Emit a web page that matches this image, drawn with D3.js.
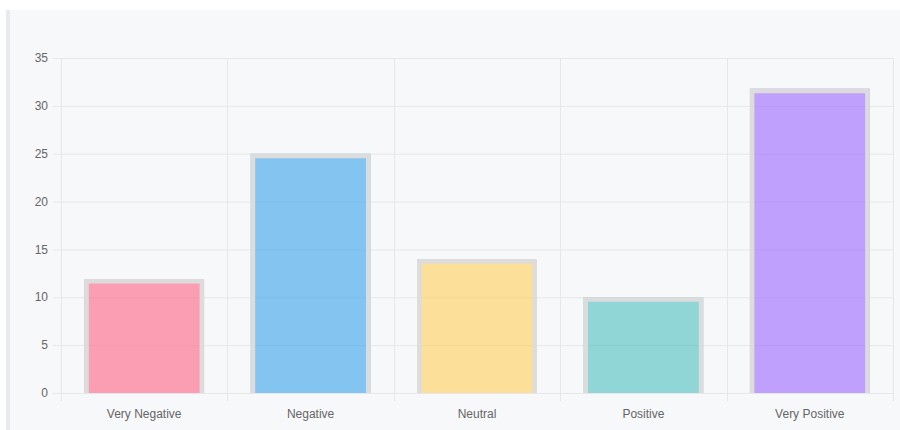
<!DOCTYPE html>
<html>
<head>
<meta charset="utf-8">
<script src="https://cdn.jsdelivr.net/npm/d3@7"></script>
<style>
  body { margin: 0; background: #ffffff; }
  svg { display: block; }
</style>
</head>
<body>
<div id="chart"></div>
<script>
// data
var categories = ['Very Negative', 'Negative', 'Neutral', 'Positive', 'Very Positive'];
var values = [11.9, 25, 14, 10, 31.8];
var barColors = ['rgba(255,99,132,0.6)', 'rgba(54,162,235,0.6)', 'rgba(255,206,86,0.6)',
                 'rgba(75,192,192,0.6)', 'rgba(153,102,255,0.6)'];
var yTicks = [0, 5, 10, 15, 20, 25, 30, 35];

var W = 900, H = 430;
var svg = d3.select('#chart').append('svg').attr('width', W).attr('height', H);

// panel background + left border
svg.append('rect').attr('x', 6).attr('y', 10).attr('width', W - 6).attr('height', H - 10).attr('fill', '#f7f8fa');
svg.append('rect').attr('x', 6).attr('y', 10).attr('width', 4).attr('height', H - 10).attr('fill', '#e9eaed');

var pLeft = 61, pRight = 893, pTop = 58, pBottom = 393;

var x = d3.scaleBand().domain(categories).range([pLeft, pRight]).paddingInner(0).paddingOuter(0);
var y = d3.scaleLinear().domain([0, 35]).range([pBottom, pTop]);

var grid = '#e6e7ea';

// horizontal grid lines + tick marks
svg.append('g').selectAll('line').data(yTicks).enter().append('line')
   .attr('x1', pLeft - 8).attr('x2', pRight)
   .attr('y1', d => y(d) + 0.5).attr('y2', d => y(d) + 0.5)
   .attr('stroke', grid).attr('stroke-width', 1);

// vertical grid lines (category boundaries)
var bounds = categories.map(c => x(c)).concat([pRight]);
svg.append('g').selectAll('line').data(bounds).enter().append('line')
   .attr('x1', d => Math.round(d) + 0.5).attr('x2', d => Math.round(d) + 0.5)
   .attr('y1', pTop).attr('y2', pBottom + 8)
   .attr('stroke', grid).attr('stroke-width', 1);

// y labels
svg.append('g').selectAll('text').data(yTicks).enter().append('text')
   .attr('x', pLeft - 13).attr('y', d => y(d)).attr('dy', '0.35em')
   .attr('text-anchor', 'end').attr('font-family', 'Helvetica, Arial, "Liberation Sans", sans-serif')
   .attr('font-size', 12).attr('fill', '#666').text(d => d);

// bars: fill + border on left/top/right (bottom skipped)
var bw = x.bandwidth() * 0.72;
var sw = 4.5;
var bars = svg.append('g').selectAll('g').data(values).enter().append('g');
function bx(i) { return x(categories[i]) + (x.bandwidth() - bw) / 2; }

bars.append('rect')
   .attr('x', (d, i) => bx(i))
   .attr('y', d => y(d))
   .attr('width', bw)
   .attr('height', d => pBottom - y(d))
   .attr('fill', (d, i) => barColors[i]);

bars.append('path')
   .attr('d', (d, i) => {
       var x0 = bx(i) + sw / 2, x1 = bx(i) + bw - sw / 2, yt = y(d) + sw / 2;
       return `M${x0},${pBottom} L${x0},${yt} L${x1},${yt} L${x1},${pBottom}`;
   })
   .attr('fill', 'none').attr('stroke', '#dcdcdc').attr('stroke-width', sw);

// x labels
svg.append('g').selectAll('text').data(categories).enter().append('text')
   .attr('x', d => x(d) + x.bandwidth() / 2).attr('y', 418)
   .attr('text-anchor', 'middle').attr('font-family', 'Helvetica, Arial, "Liberation Sans", sans-serif')
   .attr('font-size', 12).attr('fill', '#666').text(d => d);
</script>
</body>
</html>
